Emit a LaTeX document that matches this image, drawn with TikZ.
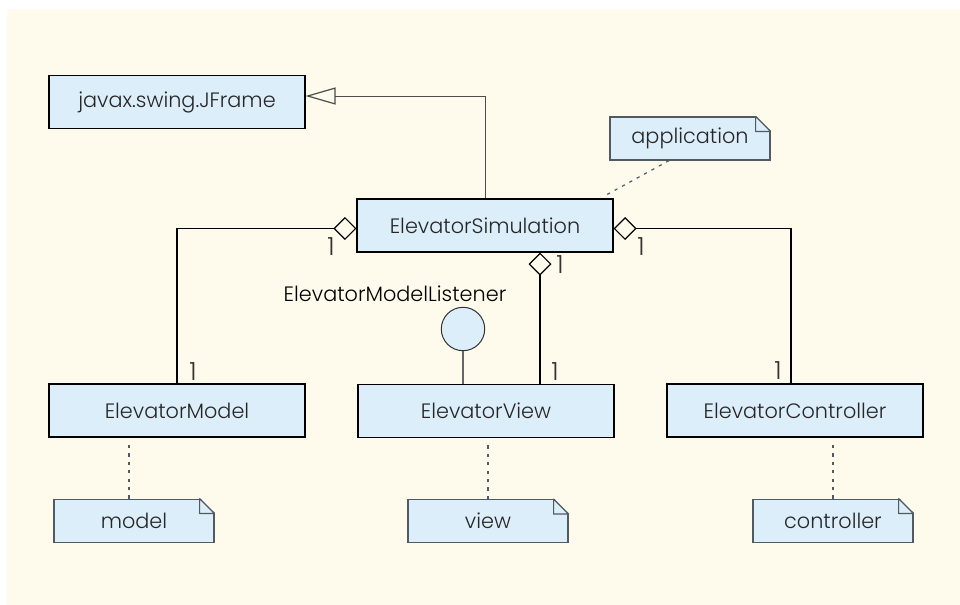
\documentclass[tikz,border=0pt]{standalone}
\usepackage{fontspec}
\setmainfont{Poppins Light}
\usetikzlibrary{arrows.meta,positioning,calc}
\definecolor{paper}{HTML}{FEFAEC}
\definecolor{classfill}{HTML}{DCEEFA}
\definecolor{inkgray}{HTML}{505A60}

\begin{document}
\begin{tikzpicture}[
  x=0.5pt, y=-0.5pt,
  font=\fontsize{10.4}{12}\selectfont,
  umlclass/.style={
    draw=black,
    fill=classfill,
    line width=.55pt,
    minimum width=128pt,
    minimum height=26.5pt,
    inner sep=0pt,
    text=black!85
  },
  umlnote/.style={
    draw=inkgray,
    fill=classfill,
    line width=.6pt,
    minimum width=80pt,
    minimum height=21.5pt,
    inner sep=0pt,
    text=black!85
  },
  iface/.style={circle, draw=black!80, fill=classfill, line width=.5pt,
    minimum size=21.7pt, inner sep=0pt},
  mult/.style={inner sep=0pt, text=black!80, font=\fontsize{12.5}{13}\selectfont},
  aggregate/.style={-{Diamond[open, length=11.5pt, width=11.5pt, line width=.6pt]},
    draw=black, line width=.55pt},
  inherit/.style={-{Triangle[open, length=15pt, width=8.5pt, line width=.6pt]},
    draw=black!70, line width=.5pt},
  trace/.style={draw=inkgray, line width=.6pt, dash pattern=on 1.6pt off 2.6pt},
  node distance=30.5pt and 5pt
]
% page and paper
\useasboundingbox (0,0) rectangle (960,605);
\fill[white] (0,0) rectangle (960,605);
\fill[paper] (7,9) rectangle (960,605);

% classes
\node[umlclass] (frame) at (177,102) {javax.swing.JFrame};
\node[umlclass] (sim) at (485,225.5) {ElevatorSimulation};
\node[umlclass] (model) at (177,410.5) {ElevatorModel};
\node[umlclass] (view) at (486,411) {ElevatorView};
\node[umlclass] (ctrl) at (795,410.5) {ElevatorController};

% interface
\node[iface] (listener) at (463,329) {};
\node[above=0pt of listener, xshift=-34pt, inner sep=2.5pt] (listenerlabel) {ElevatorModelListener};

% notes
\node[umlnote] (app) at (690,138.5) {application};
\node[umlnote, below=of model, xshift=-21.5pt] (modelnote) {model};
\node[umlnote, below=of view, xshift=1pt] (viewnote) {view};
\node[umlnote, below=of ctrl, xshift=19pt] (ctrlnote) {controller};

\foreach \n in {app,modelnote,viewnote,ctrlnote}{
  \fill[paper] ($(\n.north east)+(-15,-1)$) -- ($(\n.north east)+(1,-1)$)
    -- ($(\n.north east)+(1,15)$) -- cycle;
  \draw[draw=inkgray, fill=classfill, line width=.6pt, line join=bevel]
    ($(\n.north east)+(-15,0)$) -- ($(\n.north east)+(0,15)$)
    -- ($(\n.north east)+(-15,15)$) -- cycle;
}

% generalization
\draw[inherit] (sim.north) |- ($(frame.east)+(0,-6)$);

% aggregations
\draw[aggregate] (model.north) |- ($(sim.west)+(0,3)$);
\draw[aggregate] ($(ctrl.north)+(-4,0)$) |- ($(sim.east)+(0,3)$);
\coordinate (viewjoin) at ($(view.north)+(54,0)$);
\draw[aggregate] (viewjoin) -- (viewjoin |- sim.south);

% realization of the listener
\draw[draw=black!60, line width=.6pt] (listener.south) -- (listener.south |- view.north);

% multiplicities
\node[mult] (m-simmodel) at (331,247) {1};
\node[mult] (m-simctrl) at (641,247) {1};
\node[mult] (m-simview) at (560,265) {1};
\node[mult] (m-model) at (193,372) {1};
\node[mult] (m-view) at (555,372) {1};
\node[mult] (m-ctrl) at (778,371) {1};

% note anchors
\draw[trace] ($(app.south)+(-21,0)$) -- ($(sim.north east)+(-10,-2)$);
\draw[trace] ($(modelnote.north)+(-5,0)$) -- ($(modelnote.north |- model.south)+(-5,4)$);
\draw[trace] (viewnote.north) -- ($(viewnote.north |- view.south)+(0,4)$);
\draw[trace] (ctrlnote.north) -- ($(ctrlnote.north |- ctrl.south)+(0,4)$);
\end{tikzpicture}
\end{document}
